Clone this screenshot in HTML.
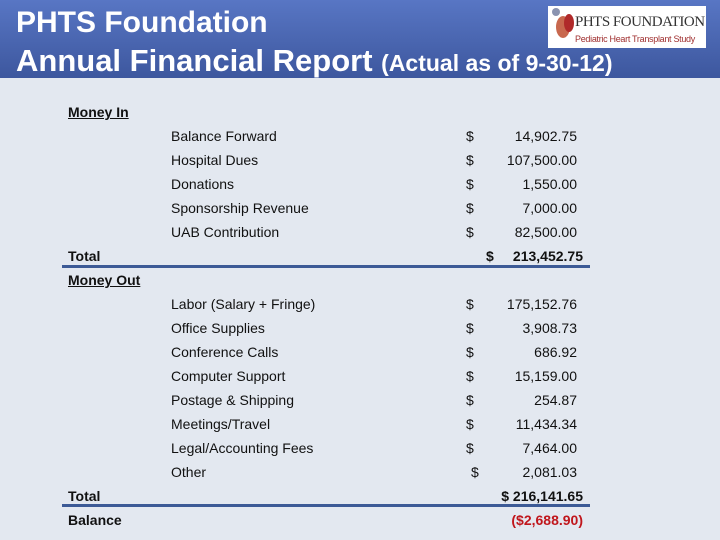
<!DOCTYPE html>
<html><head><meta charset="utf-8"><style>
body{margin:0;width:720px;height:540px;background:#e3e8f0;position:relative;overflow:hidden;font-family:"Liberation Sans",Arial,sans-serif}
.hdr{position:absolute;left:0;top:0;width:720px;height:78px;background:linear-gradient(#5876c4,#3d579e)}
.t{position:absolute;color:#fff;font-weight:bold;white-space:nowrap}
.r{position:absolute;font-size:14px;color:#111;white-space:nowrap;line-height:16px}
.b{font-weight:bold}
.amt{text-align:right}
.line{position:absolute;height:3px;background:#3c5a96}
</style></head><body>
<div class="hdr"></div>
<div class="t" style="left:16px;top:6px;font-size:30px">PHTS Foundation</div>
<div class="t" style="left:16px;top:43px;font-size:31px">Annual Financial Report <span style="font-size:23px">(Actual as of 9-30-12)</span></div>
<div style="position:absolute;left:548px;top:6px;width:158px;height:42px;background:#fff;overflow:hidden">
<div style="position:absolute;left:4px;top:2px;width:8px;height:8px;border-radius:50%;background:#8a93b0"></div>
<div style="position:absolute;left:8px;top:10px;width:14px;height:22px;border-radius:50%;background:#c8684e"></div>
<div style="position:absolute;left:16px;top:8px;width:10px;height:18px;border-radius:50%;background:#b02a2a"></div>
<div style="position:absolute;left:27px;top:8px;font-family:'Liberation Serif',serif;font-size:15px;color:#333;white-space:nowrap;letter-spacing:-0.5px">PHTS FOUNDATION</div>
<div style="position:absolute;left:27px;top:28px;font-size:9px;color:#a03030;white-space:nowrap;letter-spacing:-0.3px">Pediatric Heart Transplant Study</div>
</div>
<div id="rows"></div>
<div class="line" style="left:62px;top:265px;width:528px"></div>
<div class="line" style="left:62px;top:504px;width:528px"></div>
<script>
const inLabels=["Balance Forward","Hospital Dues","Donations","Sponsorship Revenue","UAB Contribution"];
const inValues=["14,902.75","107,500.00","1,550.00","7,000.00","82,500.00"];
const outLabels=["Labor (Salary + Fringe)","Office Supplies","Conference Calls","Computer Support","Postage & Shipping","Meetings/Travel","Legal/Accounting Fees","Other"];
const outValues=["175,152.76","3,908.73","686.92","15,159.00","254.87","11,434.34","7,464.00","2,081.03"];
const root=document.getElementById('rows');
function add(txt,x,y,cls,name,w,color){const d=document.createElement('div');d.className='r '+(cls||'');d.textContent=txt;d.style.left=x+'px';d.style.top=(y-7)+'px';if(w){d.style.width=w+'px';}if(color)d.style.color=color;


root.appendChild(d);}
add("Money In",68,111,'b','money-in-heading');root.lastChild.style.textDecoration='underline';
let y=135;
inLabels.forEach((l,i)=>{add(l,171,y,'','in-label');add('$',466,y,'','dollar-sign');add(inValues[i],477,y,'amt','in-amount',100);y+=24;});
add("Total",68,255,'b','total-in-label');add('$',486,255,'b','dollar-sign');add("213,452.75",483,255,'b amt','total-in-amount',100);
add("Money Out",68,279,'b','money-out-heading');root.lastChild.style.textDecoration='underline';
y=303;
outLabels.forEach((l,i)=>{const last=i==outLabels.length-1;add(l,171,y,'','out-label');add('$',last?471:466,y,'','dollar-sign');add(outValues[i],477,y,'amt','out-amount',100);y+=24;});
add("Total",68,495,'b','total-out-label');add('$ 216,141.65',473,495,'b amt','total-out-amount',110);
add("Balance",68,519,'b','balance-label');add('($2,688.90)',473,519,'b amt','balance-amount',110,'#c0161c');
</script>
</body></html>
